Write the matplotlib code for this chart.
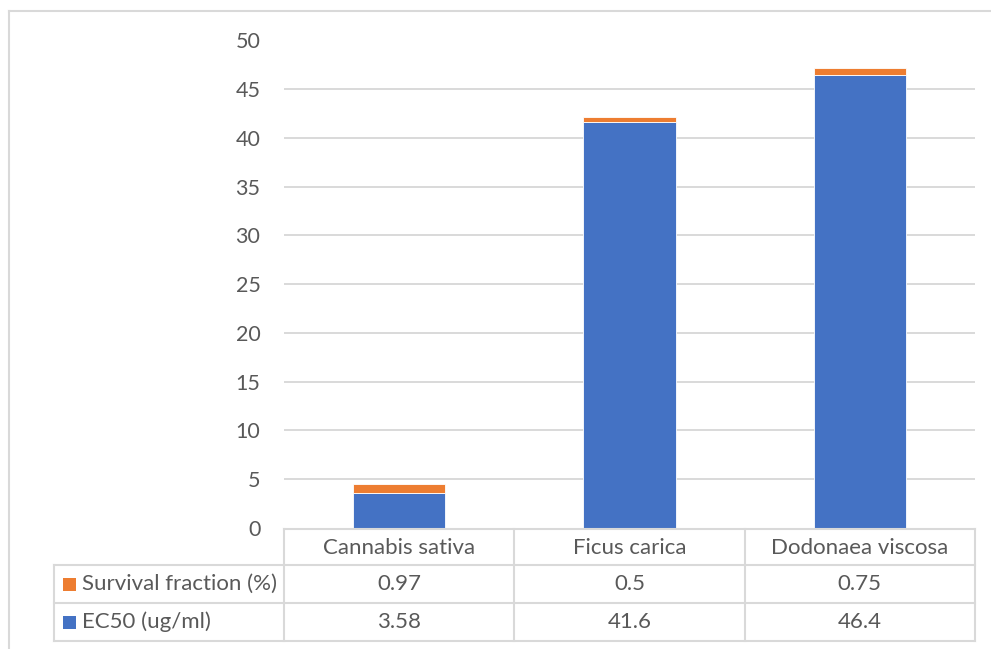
import matplotlib
matplotlib.use("Agg")
import matplotlib.pyplot as plt
from matplotlib.lines import Line2D
from matplotlib.patches import Rectangle

categories = ["Cannabis sativa", "Ficus carica", "Dodonaea viscosa"]
ec50 = [3.58, 41.6, 46.4]
survival = [0.97, 0.5, 0.75]
series_names = ["Survival fraction (%)", "EC50 (ug/ml)"]
yticks = [0, 5, 10, 15, 20, 25, 30, 35, 40, 45, 50]

BLUE = "#4472C4"
ORANGE = "#ED7D31"
GRID = "#D9D9D9"
TEXT = "#595959"

plt.rcParams["font.family"] = ["Lato", "DejaVu Sans"]

W, H = 991, 649
fig = plt.figure(figsize=(W / 100, H / 100), dpi=100)

def fx(px):
    return px / W

def fy(py):
    return 1 - py / H

# plot area
x0, x1 = 284, 975
y_zero, y_top = 528, 40.2
ax = fig.add_axes([fx(x0), fy(y_zero), fx(x1) - fx(x0), fy(y_top) - fy(y_zero)])
xs = list(range(len(categories)))
ax.bar(xs, ec50, width=0.4, color=BLUE, edgecolor="white", linewidth=0.6, zorder=3)
ax.bar(xs, survival, width=0.4, bottom=ec50, color=ORANGE, edgecolor="white", linewidth=0.6, zorder=3)
ax.set_xlim(-0.5, len(categories) - 0.5)
ax.set_ylim(0, 50)
ax.set_yticks(yticks)
ax.set_xticks([])
for t in yticks[1:-1]:
    ax.axhline(t, color=GRID, linewidth=1.4, zorder=1)
for s in ax.spines.values():
    s.set_visible(False)
ax.tick_params(axis="y", length=0, pad=17, labelsize=15.5, labelcolor=TEXT)

# outer chart border
fig.add_artist(Line2D([fx(9), fx(9)], [fy(11), fy(H + 5)], color=GRID, linewidth=1.5))
fig.add_artist(Line2D([fx(9), fx(W + 5)], [fy(11), fy(11)], color=GRID, linewidth=1.5))

# data table
col_edges = [284, 514.3, 744.7, 975]
row_edges = [529, 565, 603, 641]
label_left = 54
lw = 1.5

def hline(xa, xb, y):
    fig.add_artist(Line2D([fx(xa), fx(xb)], [fy(y), fy(y)], color=GRID, linewidth=lw))

def vline(x, ya, yb):
    fig.add_artist(Line2D([fx(x), fx(x)], [fy(ya), fy(yb)], color=GRID, linewidth=lw))

hline(col_edges[0], col_edges[-1], row_edges[0])
for y in row_edges[1:]:
    hline(label_left, col_edges[-1], y)
for x in col_edges:
    vline(x, row_edges[0], row_edges[-1])
vline(label_left, row_edges[1], row_edges[-1])

fs = 16
for i, cat in enumerate(categories):
    cx = (col_edges[i] + col_edges[i + 1]) / 2
    fig.text(fx(cx), fy((row_edges[0] + row_edges[1]) / 2 + 1), cat,
             ha="center", va="center", fontsize=fs, color=TEXT)

rows = [(series_names[0], ORANGE, survival), (series_names[1], BLUE, ec50)]
for r, (name, color, vals) in enumerate(rows):
    ya, yb = row_edges[r + 1], row_edges[r + 2]
    cy = (ya + yb) / 2
    fig.add_artist(Rectangle((fx(63), fy(cy + 6.5)), fx(13), fy(cy - 6.5) - fy(cy + 6.5),
                             facecolor=color, edgecolor="none"))
    fig.text(fx(82), fy(cy), name, ha="left", va="center", fontsize=fs, color=TEXT)
    for i, v in enumerate(vals):
        cx = (col_edges[i] + col_edges[i + 1]) / 2
        fig.text(fx(cx), fy(cy), f"{v:g}", ha="center", va="center", fontsize=fs, color=TEXT)

fig.savefig("out.png", dpi=100, facecolor="white")
